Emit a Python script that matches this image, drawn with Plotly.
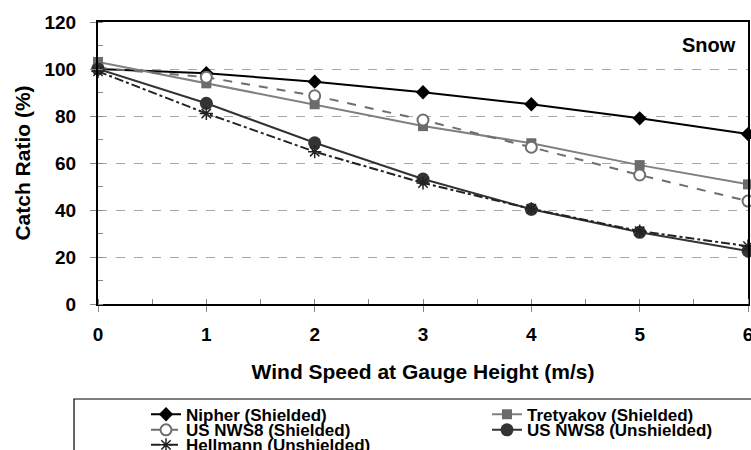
import plotly.graph_objects as go

wind = [0, 1, 2, 3, 4, 5, 6]
nipher = [100, 98.2, 94.6, 90.1, 85.0, 79.0, 72.3]
tretyakov = [103.0, 93.9, 85.0, 75.7, 68.4, 59.1, 50.9]
nws8_sh = [100.5, 96.5, 88.6, 78.3, 66.7, 54.9, 43.8]
nws8_un = [100.0, 85.4, 68.6, 53.2, 40.3, 30.5, 22.6]
hellmann = [99.0, 81.1, 64.8, 51.5, 40.5, 31.0, 24.6]

FONT = "Liberation Sans"

fig = go.Figure()
fig.add_trace(go.Scatter(x=wind, y=nipher, name="Nipher (Shielded)", mode="lines+markers",
                         line=dict(color="#000000", width=2),
                         marker=dict(symbol="diamond", size=11, color="#000000"),
                         cliponaxis=False, legend="legend"))
fig.add_trace(go.Scatter(x=wind, y=tretyakov, name="Tretyakov (Shielded)", mode="lines+markers",
                         line=dict(color="#808080", width=2),
                         marker=dict(symbol="square", size=10, color="#6b6b6b"),
                         cliponaxis=False, legend="legend2"))
fig.add_trace(go.Scatter(x=wind, y=nws8_sh, name="US NWS8 (Shielded)", mode="lines+markers",
                         line=dict(color="#6e6e6e", width=2, dash="dash"),
                         marker=dict(symbol="circle", size=11, color="white",
                                     line=dict(color="#6e6e6e", width=2)),
                         cliponaxis=False, legend="legend3"))
fig.add_trace(go.Scatter(x=wind, y=nws8_un, name="US NWS8 (Unshielded)", mode="lines+markers",
                         line=dict(color="#333333", width=2),
                         marker=dict(symbol="circle", size=13, color="#333333"),
                         cliponaxis=False, legend="legend4"))
fig.add_trace(go.Scatter(x=wind, y=hellmann, name="Hellmann (Unshielded)", mode="lines+markers",
                         line=dict(color="#222222", width=2, dash="dashdot"),
                         marker=dict(symbol="asterisk-open", size=11,
                                     line=dict(color="#222222", width=1.5)),
                         cliponaxis=False, legend="legend5"))

PLOT_BOTTOM, PLOT_H = 304, 282


def leg(xpx, center_px):
    top = center_px - 16
    return dict(orientation="v", x=(xpx - 98) / 650, y=-(top - PLOT_BOTTOM) / PLOT_H,
                xanchor="left", yanchor="top", itemwidth=30,
                font=dict(family=FONT, size=17, color="#000000", weight="bold"),
                bgcolor="rgba(0,0,0,0)", borderwidth=0)


fig.update_layout(
    width=751, height=450,
    margin=dict(l=98, r=3, t=22, b=146, autoexpand=False),
    paper_bgcolor="white", plot_bgcolor="white",
    font=dict(family=FONT, size=19, color="#000000", weight="bold"),
    showlegend=True,
    legend=leg(146, 412.7),
    legend2=leg(487, 412.7),
    legend3=leg(146, 428.3),
    legend4=leg(487, 428.3),
    legend5=leg(146, 443.3),
    shapes=[dict(type="rect", xref="paper", yref="paper", x0=-0.0369, x1=1.2,
                 y0=-0.8, y1=-0.3369, line=dict(color="#000000", width=1.2), layer="below")],
    annotations=[dict(text="Snow", xref="paper", yref="paper", x=0.9846, y=0.920,
                      xanchor="right", yanchor="middle", showarrow=False,
                      font=dict(family=FONT, size=20, color="#000000", weight="bold"))],
)

fig.update_xaxes(range=[0, 6], dtick=1, showgrid=False, zeroline=False,
                 showline=True, linecolor="#000000", linewidth=2, mirror=True,
                 ticks="outside", ticklen=6, tickcolor="#888888", tickwidth=1,
                 ticklabelstandoff=6, ticklabeloverflow="allow",
                 minor=dict(dtick=0.5, ticks="inside", ticklen=5, tickcolor="#888888", showgrid=False),
                 tickfont=dict(family=FONT, size=19, weight="bold"),
                 title=dict(text="Wind Speed at Gauge Height (m/s)", standoff=21,
                            font=dict(family=FONT, size=21, weight="bold")))
fig.update_yaxes(range=[0, 120], dtick=20, showgrid=True, gridcolor="#a8a8a8",
                 griddash="dash", gridwidth=1, zeroline=False,
                 showline=True, linecolor="#000000", linewidth=2, mirror=True,
                 ticks="outside", ticklen=6, tickcolor="#888888", tickwidth=1,
                 ticklabelstandoff=10, ticklabeloverflow="allow",
                 minor=dict(dtick=10, ticks="inside", ticklen=5, tickcolor="#888888", showgrid=False),
                 tickfont=dict(family=FONT, size=19, weight="bold"),
                 title=dict(text="Catch Ratio (%)", standoff=8,
                            font=dict(family=FONT, size=21, weight="bold")))

fig.write_html("out.html")
